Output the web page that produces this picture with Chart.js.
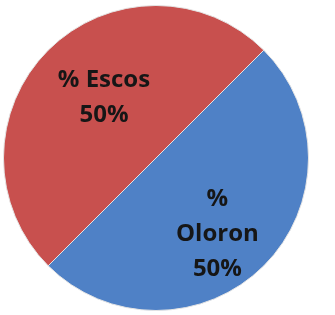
<!DOCTYPE html>
<html>
<head>
<meta charset="utf-8">
<script src="https://cdn.jsdelivr.net/npm/chart.js@4.4.0/dist/chart.umd.min.js"></script>
<style>
  html, body { margin: 0; padding: 0; background: #fff; }
  canvas { display: block; }
</style>
</head>
<body>
<canvas id="pie" width="335" height="315"></canvas>
<script>
// data
const labels = ['% Escos', '% Oloron'];
const values = [50, 50];
const colors = ['#C8504E', '#4F81C6'];

// draws "% name" + "xx%" inside each slice, like the excel data labels
const sliceLabels = {
	id: 'sliceLabels',
	afterDatasetsDraw(chart, args, opts) {
		const ctx = chart.ctx;
		const meta = chart.getDatasetMeta(0);
		const total = values.reduce((a, b) => a + b, 0);
		ctx.save();
		ctx.fillStyle = opts.color;
		ctx.font = opts.font;
		ctx.textAlign = 'center';
		ctx.textBaseline = 'middle';
		meta.data.forEach(function(arc, i) {
			const p = arc.getProps(['x', 'y', 'startAngle', 'endAngle', 'outerRadius'], true);
			const mid = (p.startAngle + p.endAngle) / 2 + opts.shift[i] * Math.PI / 180;
			const r = p.outerRadius * opts.dist[i];
			const cx = p.x + Math.cos(mid) * r;
			const cy = p.y + Math.sin(mid) * r;
			const pct = Math.round(values[i] / total * 100) + '%';
			let lines = opts.split[i] ? labels[i].split(' ').concat([pct]) : [labels[i], pct];
			const h = opts.lineHeight;
			const y0 = cy - (lines.length - 1) * h / 2;
			lines.forEach(function(t, j) {
				ctx.fillText(t, cx, y0 + j * h);
			});
		});
		ctx.restore();
	}
};

const ctx = document.getElementById('pie').getContext('2d');
const myChart = new Chart(ctx, {
	type: 'pie',
	data: {
		labels: labels,
		datasets: [{
			data: values,
			backgroundColor: colors,
			borderColor: '#e4e4e4',
			borderWidth: 1
		}]
	},
	options: {
		responsive: false,
		animation: false,
		rotation: 225,
		layout: { padding: { left: 3, right: 26, top: 5, bottom: 4 } },
		plugins: {
			legend: { display: false },
			tooltip: { enabled: false },
			sliceLabels: {
				color: '#161616',
				font: 'bold 24px "Open Sans"',
				lineHeight: 35,
				dist: [0.52, 0.64],
				shift: [4, 6],
				split: [false, true]
			}
		}
	},
	plugins: [sliceLabels]
});
</script>
</body>
</html>
